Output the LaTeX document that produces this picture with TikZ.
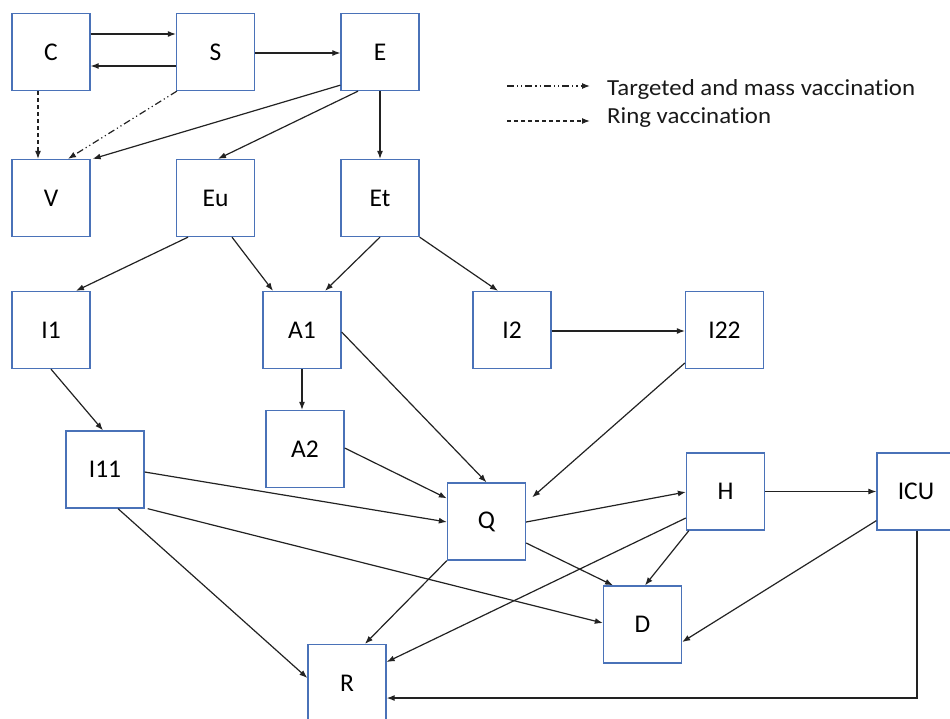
\documentclass[tikz,border=0pt]{standalone}
\usepackage{fontspec}
\setmainfont{Carlito}[Ligatures={NoCommon}]
\newfontfamily\legfont[FakeStretch=1.08,Ligatures={NoCommon}]{Carlito}
\usetikzlibrary{arrows.meta,calc}
\definecolor{boxblue}{HTML}{4A72B8}
\definecolor{arrowgray}{HTML}{222222}
\tikzset{
  stock/.style={draw=boxblue, line width=1.3pt, minimum width=78pt, minimum height=77pt, inner sep=0pt, font=\fontsize{25.5}{30}\selectfont, text=black},
  flow/.style={draw=arrowgray, line width=1.2pt, -{Latex[length=8pt,width=6pt]}},
  ringvac/.style={flow, dash pattern=on 4pt off 3pt},
  massvac/.style={flow, dash pattern=on 7pt off 3pt on 1.2pt off 3pt on 1.2pt off 3pt},
  legtext/.style={anchor=base west, inner sep=0pt, font=\legfont\fontsize{23}{27}\selectfont, text=black!90}
}
\begin{document}
\begin{tikzpicture}[x=1pt,y=-1pt]
\useasboundingbox (0,0) rectangle (950,718);
\clip (0,0) rectangle (950,718);
% nodes
\node[stock] (C)   at (51,52)    {C};
\node[stock] (S)   at (215.5,52) {S};
\node[stock] (E)   at (380,52)   {E};
\node[stock] (V)   at (51,198)   {V};
\node[stock] (Eu)  at (215.5,198){Eu};
\node[stock] (Et)  at (380,198)  {Et};
\node[stock] (I1)  at (51,330)   {I1};
\node[stock] (A1)  at (302,330)  {A1};
\node[stock] (I2)  at (512,330)  {I2};
\node[stock] (I22) at (724.5,330){I22};
\node[stock] (I11) at (105,469.5){I11};
\node[stock] (A2)  at (305,449)  {A2};
\node[stock] (Q)   at (486.5,521.5){Q};
\node[stock] (H)   at (725.5,491.5){H};
\node[stock] (ICU) at (916,491.5){ICU};
\node[stock] (D)   at (642.5,624.5){D};
\node[stock] (R)   at (347,683)  {R};
% connectors
\draw[flow] ([yshift=18pt]C.east) -- ([yshift=18pt]S.west);
\draw[flow] ([yshift=-14pt]S.west) -- ([yshift=-14pt]C.east);
\draw[flow] ([yshift=-1pt]S.east) -- ([yshift=-1pt]E.west);
\draw[ringvac] ([xshift=-13pt]C.south) -- ([xshift=-13pt]V.north);
\draw[massvac] ([xshift=1pt]S.south west) -- ([xshift=17pt]V.north);
\draw[flow] ([yshift=6pt]E.south west) -- ([xshift=2pt]V.north east);
\draw[flow] ([xshift=-22pt]E.south) -- ([xshift=2.5pt]Eu.north);
\draw[flow] (E.south) -- (Et.north);
\draw[flow] ([xshift=-27.5pt]Eu.south) -- ([xshift=25pt]I1.north);
\draw[flow] ([xshift=16.5pt]Eu.south) -- ([xshift=-29pt]A1.north);
\draw[flow] (Et.south) -- ([xshift=23pt]A1.north);
\draw[flow] (Et.south east) -- ([xshift=-14pt]I2.north);
\draw[flow] (I1.south) -- ([xshift=-2pt]I11.north);
\draw[flow] (A1.south) -- (A1.south |- A2.north);
\draw[flow] ([yshift=-2pt]A1.east) -- (Q.north);
\draw[flow] ([yshift=-1pt]I2.east) -- ([yshift=-1pt]I22.west);
\draw[flow] ([yshift=-33pt]I22.west) -- ([xshift=6pt,yshift=-15pt]Q.north east);
\draw[flow] ([yshift=1pt]A2.east) -- ([yshift=-16pt]Q.north west);
\draw[flow] ([yshift=-2.5pt]I11.east) -- ([yshift=-0.5pt]Q.west);
\draw[flow] ([xshift=3pt]I11.south east) -- ([yshift=1.5pt]D.west);
\draw[flow] ([xshift=13pt]I11.south) -- ([yshift=5pt]R.west);
\draw[flow] ([yshift=-0.5pt]Q.east) -- ([yshift=-0.5pt]H.west);
\draw[flow] ([yshift=-21.5pt]Q.east) -- ([xshift=-29.5pt]D.north);
\draw[flow] (Q.south west) -- ([xshift=18pt]R.north);
\draw[flow] ([yshift=-26.5pt]H.west) -- ([yshift=21pt]R.east);
\draw[flow] ([xshift=3pt]H.south west) -- ([xshift=2.5pt]D.north);
\draw[flow] (H.east) -- (ICU.west);
\draw[flow] ([yshift=10pt]ICU.south west) -- ([yshift=-17.5pt]D.east);
\draw[flow] ([xshift=1pt]ICU.south) |- ([yshift=-15pt]R.east);
% legend
\coordinate (m1) at (507,86);
\coordinate (m2) at (590,86);
\coordinate (r1) at (507,121);
\coordinate (r2) at (590,121);
\draw[massvac] (m1) -- (m2);
\draw[ringvac] (r1) -- (r2);
\node[legtext] (tm) at (607,95) {Targeted and mass vaccination};
\node[legtext] (tr) at (607,123) {Ring vaccination};
\end{tikzpicture}
\end{document}
